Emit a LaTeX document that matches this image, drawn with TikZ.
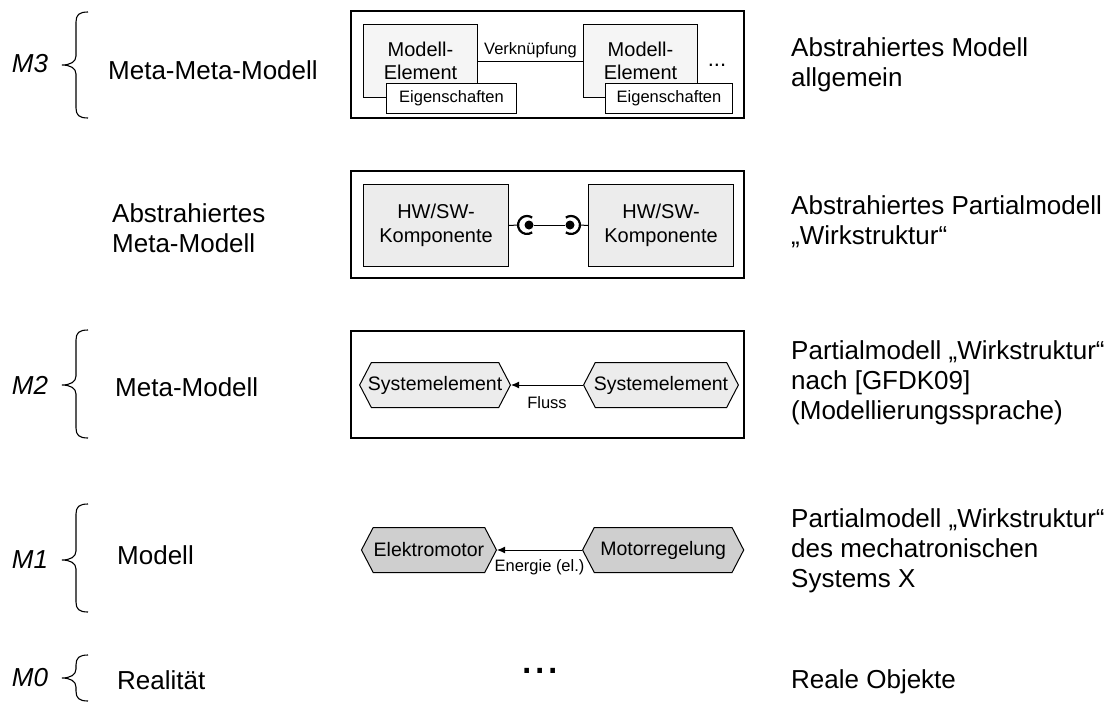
\documentclass[tikz,border=0pt]{standalone}
\usepackage{fontspec}
\setmainfont{Liberation Sans}
\usetikzlibrary{arrows.meta,shapes.symbols}

% curly brace opening to the right: top, tip and bottom y-values
\newcommand\levelbrace[3]{%
  \draw[brace] (88,#1) .. controls (79,#1) and (76,{#1+3}) .. (76,{#1+10})
    -- (76,{#2-9}) .. controls (76,{#2-3}) and (70,#2) .. (62,#2)
    .. controls (70,#2) and (76,{#2+3}) .. (76,{#2+9})
    -- (76,{#3-10}) .. controls (76,{#3-3}) and (79,#3) .. (88,#3);}

\begin{document}
\begin{tikzpicture}[x=1pt,y=-1pt,
  lvl/.style={font=\fontsize{26}{30}\selectfont, align=left, anchor=west, inner sep=0pt},
  mlab/.style={font=\fontsize{26}{30}\selectfont\itshape, inner sep=0pt},
  brace/.style={line width=1.1pt},
  frame/.style={draw, line width=1.4pt},
  elem/.style={draw, line width=1pt, fill=gray!8, anchor=north west, align=center,
    inner sep=0pt, font=\fontsize{20}{23}\selectfont},
  eig/.style={draw, line width=1pt, fill=white, anchor=north west, inner sep=0pt,
    minimum height=30, font=\fontsize{16.5}{18}\selectfont},
  comp/.style={draw, line width=1pt, fill=gray!15, anchor=north west, align=center,
    inner sep=0pt, minimum width=145, minimum height=82, font=\fontsize{20}{24}\selectfont},
  hexa/.style={shape=signal, signal to=west and east, signal pointer angle=125,
    draw, line width=1pt, minimum height=45, inner xsep=0.5pt, inner ysep=0pt,
    font=\fontsize{19.5}{22}\selectfont},
  small/.style={font=\fontsize{16.5}{18}\selectfont, inner sep=0pt},
  link/.style={line width=1pt},
  flow/.style={line width=1pt, -{Latex[length=8pt,width=7pt]}},
  ball/.style={circle, fill=black, inner sep=0pt, minimum size=9pt},
  cup/.style={line width=2.2pt}
]
\useasboundingbox (0,0) rectangle (1115,702);

% ---- level labels and braces ----
\node[mlab] (m3) at (30,64) {M3};
\node[mlab] (m2) at (30,385) {M2};
\node[mlab] (m1) at (30,560) {M1};
\node[mlab] (m0) at (30,678) {M0};
\levelbrace{12}{65}{118}
\levelbrace{330}{385}{438}
\levelbrace{504}{560}{612}
\levelbrace{655}{678}{701}

\node[lvl] (l3) at (108,70) {Meta-Meta-Modell};
\node[lvl] (la) at (112,228) {Abstrahiertes\\Meta-Modell};
\node[lvl] (l2) at (115,387) {Meta-Modell};
\node[lvl] (l1) at (117,555) {Modell};
\node[lvl] (l0) at (117,680) {Realität};

% ---- M3: meta-meta-model ----
\draw[frame] (351,11) rectangle (744,118);
\node[elem, minimum width=114, minimum height=73] (me1) at (363,24) {Modell-\\Element};
\node[elem, minimum width=114, minimum height=73] (me2) at (583,24) {Modell-\\Element};
\draw[link] (me1.east) -- node[above=3pt, small] {Verknüpfung} (me2.west);
\node[eig, minimum width=130] (eg1) at (386,83) {Eigenschaften};
\node[eig, minimum width=127] (eg2) at (605,83) {Eigenschaften};
\node[font=\fontsize{22}{22}\selectfont, anchor=base, inner sep=0pt] (more3) at (717,66) {...};

% ---- abstract meta-model ----
\draw[frame] (351,171) rectangle (744,278);
\node[comp] (hw1) at (363,184) {HW/SW-\\Komponente};
\node[comp] (hw2) at (588,184) {HW/SW-\\Komponente};
\coordinate (c1) at (527,225);
\coordinate (c2) at (571,225);
\coordinate (s1) at (518,225);
\coordinate (s2) at (580,225);
\node[ball] (b1) at (529,225) {};
\node[ball] (b2) at (570,225) {};
\draw[link] (hw1.east) -- (s1);
\draw[link] (s2) -- (hw2.west);
\draw[link] (b1) -- (b2);
\draw[cup] ([shift={(55:9)}]c1) arc[start angle=55, end angle=305, radius=9];
\draw[cup] ([shift={(125:9)}]c2) arc[start angle=125, end angle=-125, radius=9];

% ---- M2: meta-model ----
\draw[frame] (351,331) rectangle (744,438);
\node[hexa, fill=gray!15, anchor=east, inner xsep=-3.5pt] (se1) at (511,385) {Systemelement};
\node[hexa, fill=gray!15, anchor=west, inner xsep=-1.5pt] (se2) at (583,385) {Systemelement};
\draw[flow] (se2.west) -- node[below=11pt, small] {Fluss} (se1.east);

% ---- M1: model ----
\node[hexa, fill=gray!38, anchor=east] (em) at (497,550) {Elektromotor};
\node[hexa, fill=gray!38, anchor=west, inner xsep=6pt] (mr) at (582,550) {Motorregelung};
\draw[flow] (mr.west) -- node[below=9pt, small] {Energie (el.)} (em.east);

% ---- M0: reality ----
\node[font=\fontsize{48}{48}\selectfont, anchor=base, inner sep=0pt] (more0) at (540,673) {...};

% ---- descriptions ----
\node[lvl] (r3) at (791,65) {Abstrahiertes Modell\\allgemein};
\node[lvl] (ra) at (791,222) {Abstrahiertes Partialmodell\\„Wirkstruktur“};
\node[lvl] (r2) at (791,383) {Partialmodell „Wirkstruktur“\\nach [GFDK09]\\(Modellierungssprache)};
\node[lvl] (r1) at (791,551) {Partialmodell „Wirkstruktur“\\des mechatronischen\\Systems X};
\node[lvl] (r0) at (791,682) {Reale Objekte};
\end{tikzpicture}
\end{document}
